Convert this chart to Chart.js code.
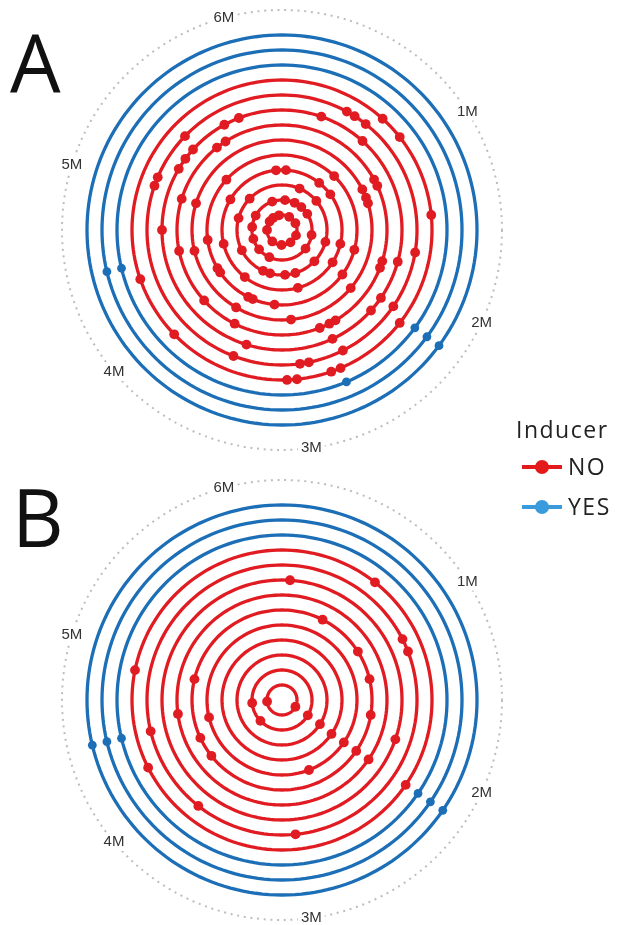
<!DOCTYPE html>
<html>
<head>
<meta charset="utf-8">
<script src="https://cdn.jsdelivr.net/npm/chart.js@4.4.1/dist/chart.umd.min.js"></script>
<style>
  html, body { margin: 0; padding: 0; background: #fff; }
  body { width: 619px; height: 925px; position: relative; overflow: hidden; font-family: "Open Sans", sans-serif; }
  canvas { position: absolute; }
  .panel { position: absolute; font-size: 80px; line-height: 80px; color: #111; }
  .legend-title, .legend-text { position: absolute; font-size: 23px; line-height: 23px; letter-spacing: 1.5px; color: #222; white-space: nowrap; }
  .key-line { position: absolute; width: 40px; height: 4px; }
  .key-dot { position: absolute; width: 14px; height: 14px; border-radius: 50%; }
</style>
</head>
<body>
<div class="panel" style="left:10px; top:21px;">A</div>
<div class="panel" style="left:12px; top:476px;">B</div>
<canvas id="chartA" width="480" height="460" style="left:42px; top:0px;"></canvas>
<canvas id="chartB" width="480" height="460" style="left:42px; top:470px;"></canvas>

<div class="legend-title" style="left:516px; top:418px;">Inducer</div>
<div class="key-line" style="left:522px; top:465px; background:#e31a1c;"></div>
<div class="key-dot" style="left:535px; top:460px; background:#e31a1c;"></div>
<div class="legend-text" style="left:568px; top:455px;">NO</div>
<div class="key-line" style="left:522px; top:505px; background:#3a9bdc;"></div>
<div class="key-dot" style="left:535px; top:500px; background:#3a9bdc;"></div>
<div class="legend-text" style="left:568px; top:495px;">YES</div>

<script>
// one turn of the circle = 188 days, month ticks every 30 days
const DAYS_PER_TURN = 188;
const days = Array.from({ length: DAYS_PER_TURN }, (_, i) => i);
const monthDays = [30, 60, 90, 120, 150, 180];
const monthLabels = ['1M', '2M', '3M', '4M', '5M', '6M'];

// rings from the centre outwards; inducer NO for 1-10, YES for 11-13
const rings = [1, 2, 3, 4, 5, 6, 7, 8, 9, 10, 11, 12, 13];
const inducer = ['NO', 'NO', 'NO', 'NO', 'NO', 'NO', 'NO', 'NO', 'NO', 'NO', 'YES', 'YES', 'YES'];
const outerRing = 44 / 3;

// event days on each ring (index = ring - 1)
const eventsA = [
  [15, 33, 58, 76, 95, 115, 141, 159, 169, 182],
  [3, 13, 21, 30, 52, 67, 107, 120, 132, 144, 156, 178],
  [12, 26, 55, 70, 85, 92, 102, 107, 127, 149, 164],
  [2, 20, 28, 54, 64, 86, 114, 134, 157, 185],
  [23, 55, 66, 97, 106, 108, 123, 125, 137, 163],
  [33, 36, 38, 68, 91, 110, 134, 150],
  [32, 34, 56, 58, 78, 80, 83, 108, 119, 135, 150, 168, 171],
  [10, 22, 55, 65, 69, 81, 103, 141, 157, 160, 163, 173, 177],
  [15, 17, 20, 52, 65, 80, 88, 90, 105, 151, 153, 164],
  [22, 27, 44, 67, 82, 84, 91, 93, 118, 131],
  [66, 82, 134],
  [66, 134],
  [66]
];

const eventsB = [
  [61, 138],
  [63, 118, 138],
  [64],
  [65],
  [65, 83, 134],
  [14, 30, 40, 52, 65, 121, 128, 148],
  [65, 137],
  [2, 57],
  [33, 36, 91, 114, 134],
  [20, 65, 127, 147],
  [65, 134],
  [65, 134],
  [65, 134]
];

const colors = { NO: '#e11b22', YES: '#1c6fb6' };

const monthLabelPlugin = {
  id: 'monthLabels',
  afterDraw(chart) {
    const scale = chart.scales.r;
    const ctx = chart.ctx;
    ctx.save();
    ctx.font = '15px "Liberation Sans", Arial, sans-serif';
    ctx.textAlign = 'center';
    ctx.textBaseline = 'middle';
    monthDays.forEach((d, i) => {
      const p = scale.getPointPosition(d, scale.drawingArea);
      const w = ctx.measureText(monthLabels[i]).width;
      ctx.fillStyle = '#fff';
      ctx.fillRect(p.x - w / 2 - 3, p.y - 9, w + 6, 18);
      ctx.fillStyle = '#333';
      ctx.fillText(monthLabels[i], p.x, p.y);
    });
    ctx.restore();
  }
};

function makeSpiral(id, events) {
  const datasets = rings.map((ring, i) => {
    const hits = new Set(events[i]);
    const color = colors[inducer[i]];
    return {
      label: 'ring ' + ring,
      data: days.map(() => ring),
      borderColor: color,
      borderWidth: 3.3,
      backgroundColor: color,
      fill: false,
      pointBackgroundColor: color,
      pointBorderWidth: 0,
      pointRadius: ctx => hits.has(ctx.dataIndex) ? (inducer[i] === 'YES' ? 4.4 : 4.9) : 0,
      pointHoverRadius: 0
    };
  });

  return new Chart(document.getElementById(id), {
    type: 'radar',
    data: { labels: days, datasets },
    options: {
      responsive: false,
      animation: false,
      devicePixelRatio: 1,
      layout: { padding: { top: 10, bottom: 10, left: 20, right: 20 } },
      elements: { line: { tension: 0 } },
      plugins: { legend: { display: false }, tooltip: { enabled: false } },
      events: [],
      scales: {
        r: {
          min: 0,
          max: outerRing,
          startAngle: 0,
          angleLines: { display: false },
          pointLabels: { display: false },
          ticks: { display: false },
          grid: {
            circular: true,
            lineWidth: 2,
            color: c => c.index === 1 ? '#bdbdbd' : 'transparent'
          },
          border: { dash: [2, 4.7] },
          afterBuildTicks: s => { s.ticks = [{ value: 0 }, { value: outerRing }]; }
        }
      }
    },
    plugins: [monthLabelPlugin]
  });
}

makeSpiral('chartA', eventsA);
makeSpiral('chartB', eventsB);
</script>
</body>
</html>
